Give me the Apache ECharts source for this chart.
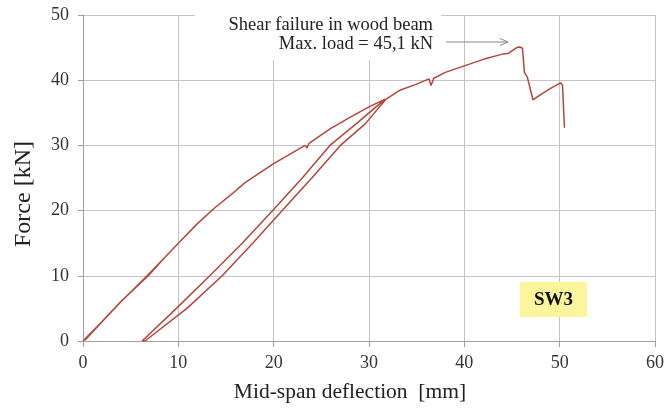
<!DOCTYPE html>
<html>
<head>
<meta charset="utf-8">
<script src="https://cdn.jsdelivr.net/npm/echarts@6/dist/echarts.min.js"></script>
<style>html,body{margin:0;padding:0;background:#fff}#c{width:664px;height:410px}</style>
</head>
<body>
<div id="c"></div>
<script>
// Deflection [mm] and force [kN] along the test path
const deflection = [0, 2, 4, 6.8, 8.5, 6.6, 3.9, 1.9, 0.2, 2.1, 4.1, 6.9,
  8.5, 10, 12, 13.8, 15.5, 17, 20, 23.3, 23.5, 23.7, 26, 28, 30, 31.7,
  28.8, 25.9, 23.0, 19.9, 16.7, 13.3, 9.8, 6.2,
  6.5, 10.9, 14.6, 17.8, 20.9, 24.0, 27.0, 29.6, 31.8,
  33.3, 35, 36.3, 36.5, 36.8, 38, 40, 42, 44, 44.6, 44.7, 45, 45.5, 45.8, 46.1, 46.3, 46.6, 47.2, 48, 49, 50.1, 50.3, 50.5];
const force = [0, 3, 6.1, 10, 12.7, 9.8, 5.9, 2.8, 0.1, 3.1, 6.2, 10.1,
  12.7, 15, 18, 20.4, 22.4, 24.3, 27.2, 30.0, 29.6, 30.3, 32.6, 34.3, 35.9, 37.1,
  33.5, 30, 25, 20, 15, 10, 5, 0,
  0, 5, 10, 15, 20, 25, 30, 33.3, 37.1,
  38.5, 39.4, 40.2, 39.2, 40.3, 41.2, 42.2, 43.2, 44.0, 44.1, 43.8, 44.5, 45.0, 45.1, 44.9, 41.2, 40.5, 37.0, 37.8, 38.7, 39.6, 39.2, 32.7];
const xTicks = [0, 10, 20, 30, 40, 50, 60];
const yTicks = [0, 10, 20, 30, 40, 50];
const xTitle = 'Mid-span deflection  [mm]';
const yTitle = 'Force [kN]';
const annotationLines = ['Shear failure in wood beam', 'Max. load = 45,1 kN'];
const specimen = 'SW3';

const pts = deflection.map((d, i) => [d, force[i]]);
const serif = '"Liberation Serif", "DejaVu Serif", serif';
const chart = echarts.init(document.getElementById('c'), null, {renderer: 'canvas'});
chart.setOption({
  animation: false,
  backgroundColor: '#fff',
  grid: {left: 83, right: 9, top: 15, bottom: 69, containLabel: false, outerBoundsMode: 'none'},
  xAxis: {
    type: 'value', min: xTicks[0], max: xTicks[xTicks.length - 1], interval: 10,
    axisLine: {show: true, lineStyle: {color: '#a0a0a0', width: 1}},
    axisTick: {show: true, length: 6, lineStyle: {color: '#a0a0a0'}},
    axisLabel: {fontFamily: serif, fontSize: 18, color: '#333', margin: 13},
    splitLine: {show: true, lineStyle: {color: '#c4c4c4', width: 1}}
  },
  yAxis: {
    type: 'value', min: yTicks[0], max: yTicks[yTicks.length - 1], interval: 10,
    axisLine: {show: true, lineStyle: {color: '#a0a0a0', width: 1}},
    axisTick: {show: true, length: 5, lineStyle: {color: '#a0a0a0'}},
    axisLabel: {fontFamily: serif, fontSize: 18, color: '#333', margin: 14},
    splitLine: {show: true, lineStyle: {color: '#c4c4c4', width: 1}}
  },
  series: [{
    type: 'line', data: pts, showSymbol: false, smooth: false,
    lineStyle: {color: '#b5453c', width: 1.5}
  }],
  graphic: [
    {type: 'text', x: 350, y: 392, style: {text: xTitle, font: '21.5px ' + serif, fill: '#222', align: 'center', verticalAlign: 'middle'}},
    {type: 'text', x: 23.5, y: 194, rotation: Math.PI / 2, style: {text: yTitle, font: '24px ' + serif, fill: '#222', align: 'center', verticalAlign: 'middle'}},
    {type: 'rect', shape: {x: 195, y: 0, width: 246, height: 60}, style: {fill: '#fff'}, z: 50},
    {type: 'text', x: 433, y: 25.5, style: {text: annotationLines[0], font: '18.5px ' + serif, fill: '#222', align: 'right', verticalAlign: 'middle'}, z: 51},
    {type: 'text', x: 433, y: 44.5, style: {text: annotationLines[1], font: '18.5px ' + serif, fill: '#222', align: 'right', verticalAlign: 'middle'}, z: 51},
    {type: 'line', shape: {x1: 446, y1: 42, x2: 508, y2: 42}, style: {stroke: '#888', lineWidth: 1}, z: 51},
    {type: 'polyline', shape: {points: [[500, 38.5], [508, 42], [500, 45.5]]}, style: {stroke: '#888', lineWidth: 1, fill: null}, z: 51},
    {type: 'rect', shape: {x: 520, y: 282, width: 67, height: 35}, style: {fill: '#fbf59c'}, z: 50},
    {type: 'text', x: 553.5, y: 300, style: {text: specimen, font: 'bold 19px ' + serif, fill: '#111', align: 'center', verticalAlign: 'middle'}, z: 51}
  ]
});
</script>
</body>
</html>
